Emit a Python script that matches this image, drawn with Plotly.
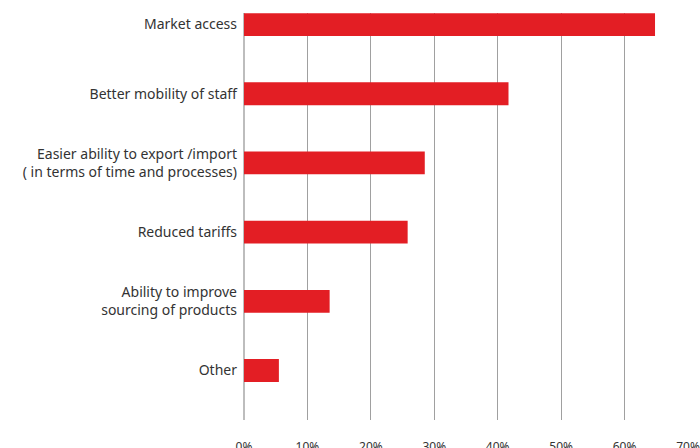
import plotly.graph_objects as go

# Survey responses: perceived benefits, share of respondents (%)
categories = [
    "Market access",
    "Better mobility of staff",
    "Easier ability to export /import<br>( in terms of time and processes)",
    "Reduced tariffs",
    "Ability to improve<br>sourcing of products",
    "Other",
]
shares = [64.8, 41.7, 28.5, 25.8, 13.5, 5.5]
tick_values = [0, 10, 20, 30, 40, 50, 60, 70]
tick_labels = ["0%", "10%", "20%", "30%", "40%", "50%", "60%", "70%"]

fig = go.Figure(
    go.Bar(
        x=shares,
        y=list(range(len(categories))),
        orientation="h",
        width=0.33,
        marker=dict(color="#e31e24", line=dict(width=0)),
        hoverinfo="x+y",
    )
)

fig.update_layout(
    width=700,
    height=448,
    margin=dict(l=244, r=12, t=13, b=28),
    paper_bgcolor="white",
    plot_bgcolor="white",
    showlegend=False,
    font=dict(family="Noto Sans, Open Sans, sans-serif", color="#333333"),
)

fig.update_xaxes(
    range=[0, 70],
    tickvals=tick_values,
    ticktext=tick_labels,
    showgrid=True,
    gridcolor="#a0a0a0",
    gridwidth=1,
    zeroline=True,
    zerolinecolor="#bdbdbd",
    zerolinewidth=2,
    showline=False,
    ticks="",
    ticklabelstandoff=18,
    tickfont=dict(size=12, color="#333333"),
    automargin=False,
    fixedrange=True,
)

fig.update_yaxes(
    range=[5.715, -0.167],
    tickvals=list(range(len(categories))),
    ticktext=categories,
    showgrid=False,
    zeroline=False,
    showline=False,
    ticks="",
    ticklabelstandoff=6,
    tickfont=dict(size=14, color="#333333"),
    automargin=False,
    fixedrange=True,
)

fig.write_html("out.html")
